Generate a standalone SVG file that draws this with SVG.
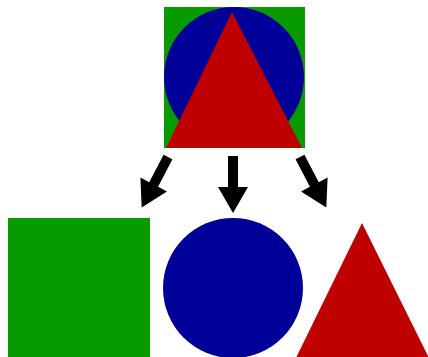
<svg xmlns="http://www.w3.org/2000/svg" width="428" height="357" viewBox="0 0 428 357">
<style>
.g{fill:#089b00}
.b{fill:#000099}
.r{fill:#bf0000}
.a{fill:#000}
</style>
<defs>
<path id="arr" d="M-5,0 L5,0 L5,31 L15,31 L0,57 L-15,31 L-5,31 Z"/>
</defs>
<rect width="428" height="357" fill="#fff"/>
<g id="combined">
<rect class="g" x="164" y="7" width="141" height="141"/>
<circle class="b" cx="234" cy="77" r="70"/>
<polygon class="r" points="232,12 302,148 166,148"/>
</g>
<g id="connectors">
<use href="#arr" class="a" transform="translate(168,157) rotate(27.5)"/>
<use href="#arr" class="a" transform="translate(233,156)"/>
<use href="#arr" class="a" transform="translate(300,157) rotate(-27.5)"/>
</g>
<g id="square">
<rect class="g" x="8" y="218" width="142" height="142"/>
</g>
<g id="circle">
<circle class="b" cx="233" cy="288" r="70"/>
</g>
<g id="triangle">
<polygon class="r" points="362,223 430,360 295,360"/>
</g>
</svg>
